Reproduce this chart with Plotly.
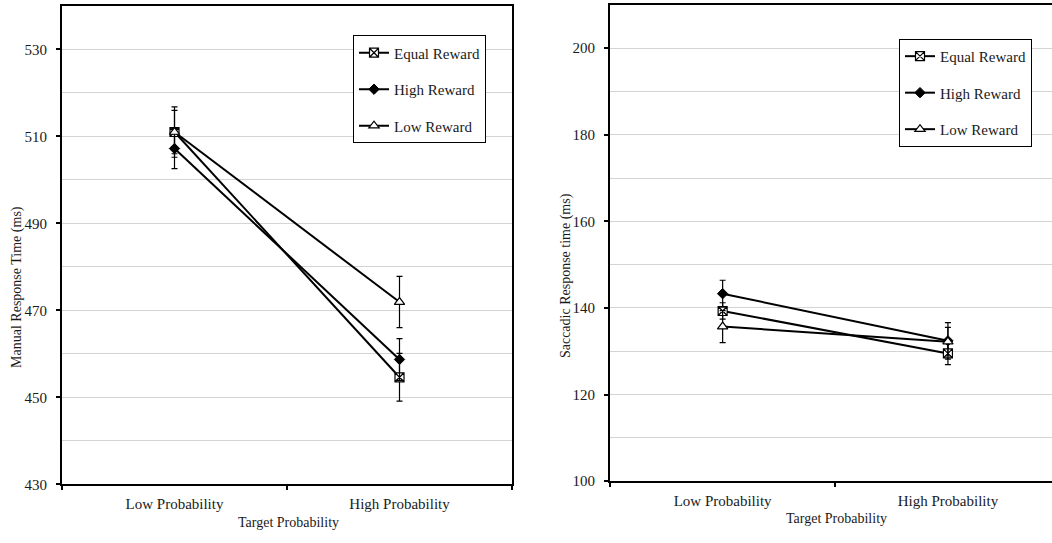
import plotly.graph_objects as go

# ---- data ----
categories = ["Low Probability", "High Probability"]
series_names = ["Equal Reward", "High Reward", "Low Reward"]

manual_equal = [511.0, 454.6]
manual_equal_err = [5.8, 5.5]
manual_high = [507.2, 458.7]
manual_high_err = [4.6, 4.8]
manual_low = [511.0, 471.9]
manual_low_err = [5.0, 5.9]

sacc_equal = [139.3, 129.5]
sacc_equal_err = [1.9, 2.6]
sacc_high = [143.3, 132.4]
sacc_high_err = [3.1, 4.2]
sacc_low = [135.7, 132.2]
sacc_low_err = [3.7, 3.3]

manual_ticks = [430, 450, 470, 490, 510, 530]
sacc_ticks = [100, 120, 140, 160, 180, 200]

# ---- styles ----
FONT = "Liberation Serif, Times New Roman, serif"
TXT = "#1a1a1a"
W, H = 1052, 543
FS = 15
marker_styles = [
    dict(symbol="square-x", size=9, color="white", line=dict(color="black", width=1.2)),
    dict(symbol="diamond", size=8, color="black", line=dict(color="black", width=1)),
    dict(symbol="triangle-up", size=9, color="white", line=dict(color="black", width=1.2)),
]

fig = go.Figure()

manual = [(manual_equal, manual_equal_err), (manual_high, manual_high_err), (manual_low, manual_low_err)]
sacc = [(sacc_equal, sacc_equal_err), (sacc_high, sacc_high_err), (sacc_low, sacc_low_err)]

for i, (vals, errs) in enumerate(manual):
    fig.add_trace(go.Scatter(
        x=categories, y=vals, name=series_names[i], mode="lines+markers",
        line=dict(color="black", width=2), marker=marker_styles[i],
        error_y=dict(type="data", array=errs, color="black", thickness=1.2, width=3),
        xaxis="x", yaxis="y", legend="legend", legendgroup="m%d" % i,
    ))
for i, (vals, errs) in enumerate(sacc):
    fig.add_trace(go.Scatter(
        x=categories, y=vals, name=series_names[i], mode="lines+markers",
        line=dict(color="black", width=2), marker=marker_styles[i],
        error_y=dict(type="data", array=errs, color="black", thickness=1.2, width=3),
        xaxis="x2", yaxis="y2", legend="legend2", legendgroup="s%d" % i,
    ))

def px_x(p):
    return p / W

def px_y(p):
    return 1 - p / H

xcommon = dict(type="category", tickson="boundaries", ticks="outside", ticklen=4, tickwidth=2,
               tickcolor="black", showline=True, linecolor="black", linewidth=2,
               showgrid=False, zeroline=False, ticklabelstandoff=5,
               tickfont=dict(family=FONT, size=FS, color=TXT))
ycommon = dict(ticks="outside", ticklen=4, tickwidth=2, tickcolor="black", showline=True,
               linecolor="black", linewidth=2, showgrid=True, gridcolor="#d4d4d4", gridwidth=1,
               zeroline=False, ticklabelstandoff=6,
               minor=dict(dtick=10, showgrid=True, gridcolor="#d4d4d4", gridwidth=1, ticks=""),
               tickfont=dict(family=FONT, size=FS, color=TXT))

def title_ann(text, x, y, angle=0):
    return dict(text=text, x=px_x(x), y=px_y(y), xref="paper", yref="paper",
                xanchor="center", yanchor="middle", showarrow=False, textangle=angle,
                font=dict(family=FONT, size=14, color=TXT))

fig.update_layout(
    width=W, height=H,
    margin=dict(l=0, r=0, t=0, b=0),
    paper_bgcolor="white", plot_bgcolor="white",
    font=dict(family=FONT, size=FS, color=TXT),
    xaxis=dict(domain=[px_x(62), px_x(512)], anchor="y", range=[-0.5, 1.5], mirror=True, **xcommon),
    yaxis=dict(domain=[px_y(491.5), px_y(6)], anchor="x", range=[430, 540], tickvals=manual_ticks,
               mirror=True, **ycommon),
    xaxis2=dict(domain=[px_x(610), 1.0], anchor="y2", range=[-0.5, 1.462], mirror=True, **xcommon),
    yaxis2=dict(domain=[px_y(488.3), px_y(5)], anchor="x2", range=[100, 210], tickvals=sacc_ticks,
                mirror=False, **ycommon),
    legend=dict(x=px_x(353), y=px_y(36), xanchor="left", yanchor="top", bgcolor="white",
                bordercolor="black", borderwidth=1, tracegroupgap=14, itemwidth=30,
                font=dict(family=FONT, size=FS, color=TXT)),
    legend2=dict(x=px_x(899), y=px_y(39.5), xanchor="left", yanchor="top", bgcolor="white",
                 bordercolor="black", borderwidth=1, tracegroupgap=14, itemwidth=30,
                 font=dict(family=FONT, size=FS, color=TXT)),
    annotations=[
        title_ann("Target Probability", 288, 530),
        title_ann("Target Probability", 836.7, 526),
        title_ann("Manual Response Time (ms)", 17.5, 291.7, -90),
        title_ann("Saccadic Response time (ms)", 565.5, 279.7, -90),
    ],
)

fig.write_html("out.html", config={"displayModeBar": False},
               post_script="document.body.style.margin='0';document.body.style.overflow='hidden';")
